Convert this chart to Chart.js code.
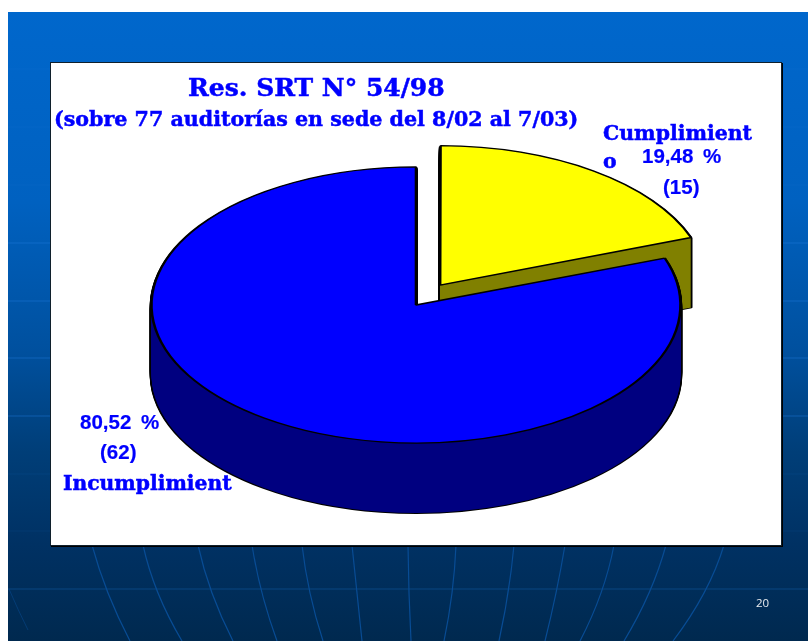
<!DOCTYPE html>
<html>
<head>
<meta charset="utf-8">
<title>Res. SRT N° 54/98</title>
<script src="https://cdn.jsdelivr.net/npm/chart.js@4"></script>
<style>
    html, body { margin: 0; padding: 0; background: #fff; }
    #page { position: relative; width: 808px; height: 641px; overflow: hidden; }
    #slide { position: absolute; left: 8px; top: 12px; width: 800px; height: 629px;
        background: linear-gradient(to bottom, #0067cc 0, #0061c0 190px, #00509e 340px, #003e78 440px, #003163 533px, #00294f 629px); }
    #decor { position: absolute; left: 0; top: 0; }
    #panel { position: absolute; left: 50px; top: 62px; width: 730px; height: 482px; background: #fff;
        border: 1px solid #10202c; box-shadow: 1px 1px 0 #000; }
    #chart { position: absolute; left: 0; top: 0; }
    .txt { position: absolute; color: #0000ff; font-weight: bold; white-space: nowrap; line-height: 1; }
    .serif { font-family: "DejaVu Serif", serif; -webkit-text-stroke: 0.5px #0000ff; }
    .sans { font-family: "Liberation Sans", Arial, sans-serif; font-size: 20.5px; word-spacing: 4px; -webkit-text-stroke: 0.2px #0000ff; }
    #pageNo { position: absolute; left: 756px; top: 595px; color: #e8ecf0; font: 11.5px "Open Sans", sans-serif; }
</style>
</head>
<body>
<div id="page">
    <div id="slide"></div>
    <svg id="decor" width="808" height="641"></svg>
    <div id="panel"></div>
    <canvas id="chart" width="808" height="641"></canvas>
    <div class="txt serif" id="title" style="left:188px;top:75px;font-size:25px"></div>
    <div class="txt serif" id="subtitle" style="left:54px;top:109px;font-size:20.6px"></div>
    <div class="txt serif" id="catA1" style="left:603px;top:123px;font-size:20.4px"></div>
    <div class="txt serif" id="catA2" style="left:603px;top:151px;font-size:20.4px"></div>
    <div class="txt sans" id="pctA" style="left:642px;top:146px"></div>
    <div class="txt sans" id="cntA" style="left:663px;top:177px"></div>
    <div class="txt sans" id="pctB" style="left:80px;top:412px"></div>
    <div class="txt sans" id="cntB" style="left:100px;top:442px"></div>
    <div class="txt serif" id="catB" style="left:63px;top:473px;font-size:20.3px"></div>
    <div id="pageNo"></div>
</div>
<script>
const titleText = 'Res. SRT N° 54/98';
const subtitleText = '(sobre 77 auditorías en sede del 8/02 al 7/03)';
const categories = ['Cumplimiento', 'Incumplimiento'];
const counts = [15, 62];
const percentLabels = ['19,48 %', '80,52 %'];
const topColors = ['#ffff00', '#0000ff'];
const sideColors = ['#808000', '#000080'];
const pageNumber = '20';

// slide decoration
const hLines = [69, 127, 185, 243, 301, 358, 416, 474, 531, 589];
const curves = [
    [92, 108, 130], [143, 158, 182], [198, 212, 233], [252, 262, 277], [302, 310, 323],
    [352, 357, 362], [408, 409, 411], [456, 452, 444], [514, 508, 499], [565, 556, 545],
    [614, 601, 580], [666, 649, 624], [724, 704, 673]
];
let svg = '';
hLines.forEach(y => {
    let op = 0.45;
    if (y < 200) op = 0.15;
    else if (y > 440 && y < 560) op = 0.1;
    else if (y > 560) op = 0.3;
    svg += `<line x1="8" x2="808" y1="${y}" y2="${y}" stroke="#1f7fe0" stroke-opacity="${op}"/>`;
});
curves.forEach(c => {
    svg += `<path d="M${c[0]} 545 Q${2 * c[1] - (c[0] + c[2]) / 2} 593 ${c[2]} 641" fill="none" stroke="#084c94" stroke-width="1.2"/>`;
});
svg += `<path d="M9 589 Q18 610 28 630" fill="none" stroke="#084c94" stroke-opacity="0.5"/>`;
document.getElementById('decor').innerHTML = svg;

document.getElementById('title').textContent = titleText;
document.getElementById('subtitle').textContent = subtitleText;
// the long names are clipped by their box in the original slide
document.getElementById('catA1').textContent = categories[0].slice(0, 11);
document.getElementById('catA2').textContent = categories[0].slice(11);
document.getElementById('catB').textContent = categories[1].slice(0, 13);
document.getElementById('pctA').textContent = percentLabels[0];
document.getElementById('pctB').textContent = percentLabels[1];
document.getElementById('cntA').textContent = '(' + counts[0] + ')';
document.getElementById('cntB').textContent = '(' + counts[1] + ')';
document.getElementById('pageNo').textContent = pageNumber;

// squash factor of the pie and height of its side wall
const squash = 0.522;
const depth = 70;
// the exploded slice sits a little higher than its offset alone gives
const lift = [-2, 0];

function drawArc(ctx, arc, dy, opts) {
    const orig = arc.options;
    const cx = arc.x;
    const cy = arc.y;
    arc.options = { ...orig, ...opts };
    ctx.save();
    ctx.translate(cx, cy + dy);
    ctx.scale(1, squash);
    ctx.translate(-cx, -cy);
    arc.draw(ctx);
    ctx.restore();
    arc.options = orig;
}

const pie3d = {
    id: 'pie3d',
    beforeDatasetsDraw(chart) {
        const ctx = chart.ctx;
        const arcs = chart.getDatasetMeta(0).data;
        arcs.forEach((arc, i) => {
            // black silhouette first, then the wall fill over it
            for (let dy = depth; dy > 0; dy -= 1) {
                drawArc(ctx, arc, dy + lift[i], { backgroundColor: '#000', borderColor: '#000', borderWidth: 3.5 });
            }
            for (let dy = depth; dy > 0; dy -= 1) {
                drawArc(ctx, arc, dy + lift[i], { backgroundColor: sideColors[i], borderWidth: 0 });
            }
            drawArc(ctx, arc, lift[i], { backgroundColor: topColors[i], borderColor: '#000', borderWidth: 2.6 });
        });
        return false;
    }
};

new Chart(document.getElementById('chart'), {
    type: 'pie',
    data: {
        labels: categories,
        datasets: [{
            data: counts,
            backgroundColor: topColors,
            borderColor: '#000',
            borderWidth: 2,
            offset: [168, 0],
            hoverOffset: 0
        }]
    },
    options: {
        responsive: false,
        animation: false,
        events: [],
        radius: 264.5,
        layout: { padding: { left: 24, bottom: 31 } },
        plugins: { legend: { display: false }, tooltip: { enabled: false } }
    },
    plugins: [pie3d]
});
</script>
</body>
</html>
